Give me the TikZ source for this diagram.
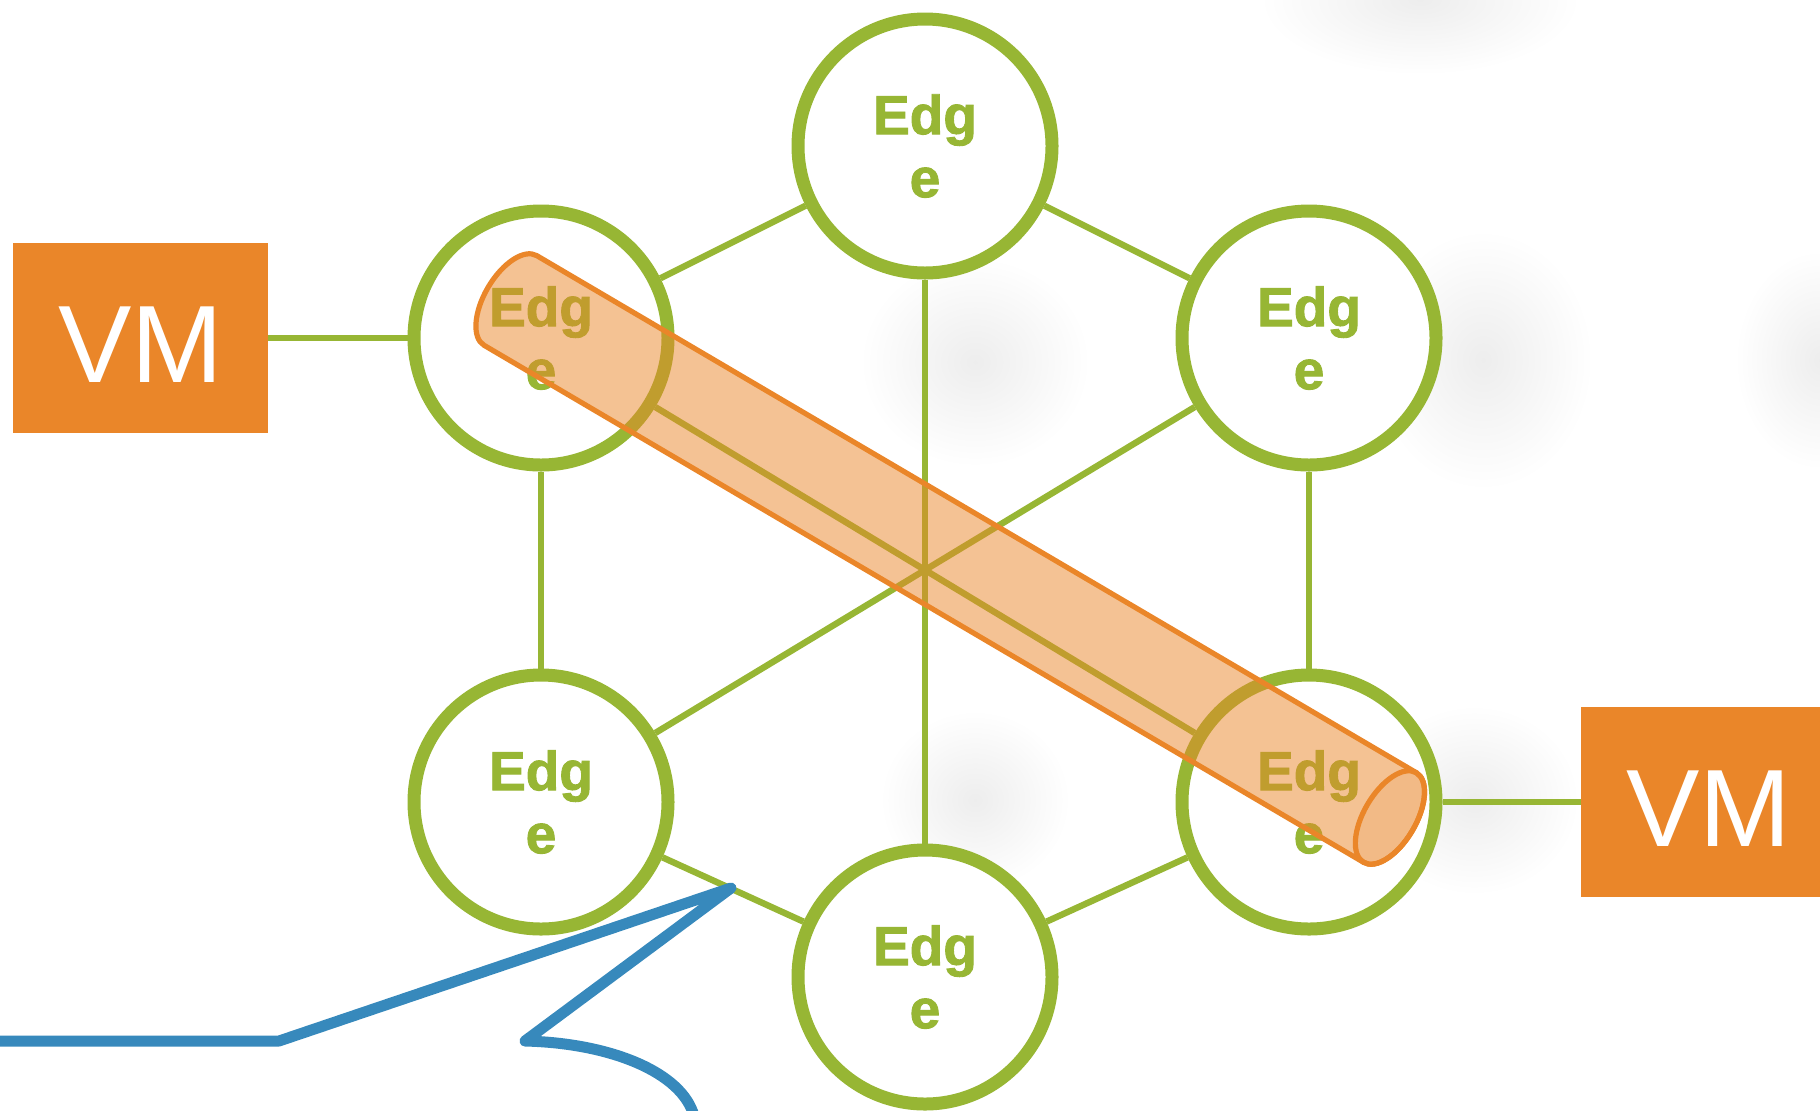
\documentclass[tikz,border=0pt]{standalone}
\usepackage{fontspec}
\setmainfont{Liberation Sans}
\newfontfamily\edgefont[FakeBold=1.6]{Liberation Sans Bold}
\usetikzlibrary{calc,positioning}
\definecolor{edgegreen}{HTML}{97B634}
\definecolor{vmorange}{HTML}{EA8629}
\definecolor{callblue}{HTML}{3789BC}

\begin{document}
\begin{tikzpicture}[x=0.5pt, y=-0.5pt,
    edgenode/.style={circle,draw=edgegreen,fill=white,line width=6.5pt,minimum size=127pt,inner sep=0pt,align=center,text=edgegreen,font=\edgefont\fontsize{27.5}{31.5}\selectfont},
    vm/.style={fill=vmorange,minimum width=127.5pt,minimum height=95pt,inner sep=0pt,text=white,font=\fontsize{55}{60}\selectfont},
    link/.style={draw=edgegreen,line width=3.2pt},
    blob/.style={inner color=black!7,outer color=white},
    tube/.style={draw=vmorange,line width=2.6pt,line join=round},
    callout/.style={draw=callblue,line width=5.5pt,line join=round,line cap=round}]
  \useasboundingbox (0,0) rectangle (1820,1110);
  \clip (0,0) rectangle (1820,1110);

  % faint shadows in the background
  \shade[blob] (975,362) ellipse [x radius=115, y radius=105];
  \shade[blob] (1483,360) ellipse [x radius=110, y radius=130];
  \shade[blob] (1420,0) ellipse [x radius=160, y radius=75];
  \shade[blob] (1820,360) ellipse [x radius=85, y radius=110];
  \shade[blob] (975,800) ellipse [x radius=95, y radius=90];
  \shade[blob] (1474,800) ellipse [x radius=105, y radius=95];

  % edge nodes
  \node[edgenode] (ct) at (925,146) {Edg\\e};
  \node[edgenode] (ul) at (541,338) {Edg\\e};
  \node[edgenode] (ur) at (1309,338) {Edg\\e};
  \node[edgenode] (ll) at (541,802) {Edg\\e};
  \node[edgenode] (lr) at (1309,802) {Edg\\e};
  \node[edgenode] (cb) at (925,977) {Edg\\e};

  \node[vm] (vml) at (140.5,338) {\raisebox{-3.5pt}[\height][0pt]{VM}};
  \node[vm] (vmr) at (1708.5,802) {\raisebox{-3.5pt}[\height][0pt]{VM}};

  \draw[link] (vml) -- (ul);
  \draw[link] (lr) -- (vmr);
  \draw[link] (ct) -- (ul);
  \draw[link] (ct) -- (ur);
  \draw[link] (ct) -- (cb);
  \draw[link] (ul) -- (ll);
  \draw[link] (ur) -- (lr);
  \draw[link] (ul) -- (lr);
  \draw[link] (ur) -- (ll);
  \draw[link] (ll) -- (cb);
  \draw[link] (cb) -- (lr);

  % tunnel
  \begin{scope}[shift={(510.5,300.5)}, rotate=-30.45]
    \filldraw[tube,fill=vmorange,fill opacity=0.5] (0,-52) -- (1020.2,-52)
      arc[start angle=-90, end angle=90, x radius=26, y radius=52] -- (0,52)
      arc[start angle=90, end angle=270, x radius=26, y radius=52] -- cycle;
    \filldraw[tube,fill=vmorange,fill opacity=0.12] (1020.2,0) ellipse [x radius=26, y radius=52];
  \end{scope}

  % callout
  \coordinate (c0) at (0,1041);
  \coordinate (c1) at (279,1041);
  \coordinate (tip) at (731,888);
  \coordinate (c2) at (525,1041);
  \coordinate (c3) at (694,1116);
  \draw[callout] (c0) -- (c1) -- (tip) -- (c2) .. controls (610,1043) and (682,1072) .. (c3);
\end{tikzpicture}
\end{document}
